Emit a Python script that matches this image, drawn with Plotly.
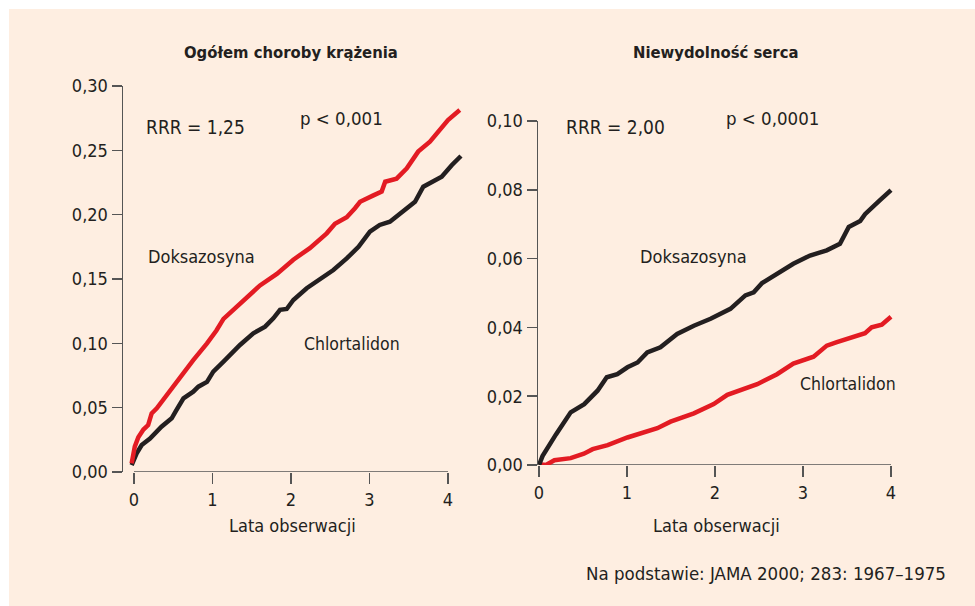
import plotly.graph_objects as go

# ---------------- data ----------------
# Left panel: Ogółem choroby krążenia
left_doks_t = [-0.03, 0.01, 0.055, 0.12, 0.18, 0.225, 0.29, 0.54, 0.61, 0.755, 0.93, 1.05, 1.14, 1.265,
               1.435, 1.605, 1.82, 2.03, 2.24, 2.455, 2.56, 2.71, 2.815, 2.88, 3.05, 3.155, 3.2, 3.345,
               3.475, 3.62, 3.77, 4.0, 4.15]
left_doks_v = [0.0067, 0.0197, 0.027, 0.033, 0.0365, 0.0456, 0.0495, 0.070, 0.0754, 0.087, 0.100, 0.110,
               0.119, 0.126, 0.135, 0.145, 0.154, 0.165, 0.174, 0.1855, 0.193, 0.198, 0.205, 0.210, 0.215,
               0.218, 0.2256, 0.228, 0.236, 0.249, 0.2567, 0.2736, 0.2813]
left_chlor_t = [-0.03, 0.034, 0.098, 0.204, 0.35, 0.48, 0.54, 0.63, 0.755, 0.82, 0.93, 1.01, 1.14, 1.35,
                1.52, 1.67, 1.775, 1.86, 1.945, 2.03, 2.2, 2.35, 2.54, 2.71, 2.86, 3.005, 3.13, 3.26,
                3.43, 3.58, 3.685, 3.77, 3.92, 4.05, 4.165]
left_chlor_v = [0.0054, 0.0145, 0.021, 0.026, 0.0352, 0.0417, 0.048, 0.0573, 0.0624, 0.0663, 0.070, 0.078,
                0.0857, 0.0987, 0.1078, 0.113, 0.1194, 0.126, 0.1267, 0.1337, 0.1428, 0.149, 0.157, 0.166,
                0.175, 0.1868, 0.192, 0.1945, 0.2023, 0.210, 0.2217, 0.2244, 0.2295, 0.2386, 0.2456]

# Right panel: Niewydolność serca
right_doks_t = [0.0, 0.04, 0.193, 0.325, 0.36, 0.514, 0.665, 0.77, 0.89, 1.005, 1.12, 1.23, 1.38, 1.57,
                1.76, 1.95, 2.175, 2.345, 2.44, 2.535, 2.74, 2.89, 3.08, 3.27, 3.42, 3.52, 3.65, 3.705,
                3.875, 4.0]
right_doks_v = [0.0, 0.0026, 0.0089, 0.0138, 0.0153, 0.0177, 0.0216, 0.0255, 0.0264, 0.0284, 0.0298,
                0.0327, 0.0342, 0.0381, 0.0405, 0.0425, 0.0454, 0.0493, 0.0502, 0.0529, 0.0561, 0.0585,
                0.0609, 0.0624, 0.0643, 0.0692, 0.0709, 0.0729, 0.077, 0.0799]
right_chlor_t = [0.0, 0.08, 0.175, 0.36, 0.51, 0.61, 0.78, 1.005, 1.345, 1.495, 1.76, 1.985, 2.14, 2.325,
                 2.48, 2.705, 2.89, 3.12, 3.27, 3.385, 3.575, 3.705, 3.78, 3.895, 4.0]
right_chlor_v = [0.0002, 0.0, 0.0014, 0.002, 0.0033, 0.0046, 0.0058, 0.008, 0.0107, 0.0126, 0.015,
                 0.0177, 0.0204, 0.022, 0.0235, 0.0264, 0.0295, 0.0315, 0.0347, 0.0357, 0.0371, 0.0383,
                 0.040, 0.0408, 0.0431]

x_ticks = [0, 1, 2, 3, 4]
left_y_ticks = [0.00, 0.05, 0.10, 0.15, 0.20, 0.25, 0.30]
right_y_ticks = [0.00, 0.02, 0.04, 0.06, 0.08, 0.10]

titles = ["Ogółem choroby krążenia", "Niewydolność serca"]
x_title = "Lata obserwacji"
source = "Na podstawie: JAMA 2000; 283: 1967–1975"

# ---------------- style ----------------
W, H = 975, 606
RED = "#E31B23"
BLACK = "#231F20"
AXIS = "#555555"
BG = "#FEEEE1"
FONT = "DejaVu Sans Condensed, Liberation Sans Narrow, Arial Narrow, sans-serif"
TXT = "#231F20"


def px(x):
    return x / W


def py(y):
    return 1 - y / H


fig = go.Figure()


def add_line(t, v, color, xa, ya):
    fig.add_trace(go.Scatter(x=t, y=v, xaxis=xa, yaxis=ya, mode="lines",
                             line=dict(width=4.5, color=color), hoverinfo="skip",
                             showlegend=False))


add_line(left_chlor_t, left_chlor_v, BLACK, "x", "y")
add_line(left_doks_t, left_doks_v, RED, "x", "y")
add_line(right_chlor_t, right_chlor_v, RED, "x2", "y2")
add_line(right_doks_t, right_doks_v, BLACK, "x2", "y2")

tickfont = dict(family=FONT, size=18, color=TXT)
common_x = dict(showgrid=False, zeroline=False, showline=False, ticks="outside", ticklen=11,
                tickwidth=1.5, tickcolor=AXIS, tickvals=x_ticks, tickfont=tickfont,
                fixedrange=True, automargin=False)
common_y = dict(showgrid=False, zeroline=False, showline=True, linecolor=AXIS, linewidth=1.5,
                ticks="outside", ticklen=10, tickwidth=1.5, tickcolor=AXIS, tickformat=".2f",
                tickfont=tickfont, fixedrange=True, automargin=False)

# left panel: x=0 at px 134, x=4 at px 448
lx0, lscale = 134, 78.5
l_dom = (123, 463)
fig.update_layout(
    xaxis=dict(**common_x, domain=[px(l_dom[0]), px(l_dom[1])], anchor="y",
               range=[(l_dom[0] - lx0) / lscale, (l_dom[1] - lx0) / lscale]),
    yaxis=dict(**common_y, domain=[py(472), py(86)], anchor="x", range=[0, 0.30],
               tickvals=left_y_ticks),
)
# right panel: x=0 at px 539, x=4 at px 891
rx0, rscale = 539, 88.0
r_dom = (538, 897)
fig.update_layout(
    xaxis2=dict(**common_x, domain=[px(r_dom[0]), px(r_dom[1])], anchor="y2",
                range=[(r_dom[0] - rx0) / rscale, (r_dom[1] - rx0) / rscale]),
    yaxis2=dict(**common_y, domain=[py(465), py(121)], anchor="x2", range=[0, 0.10],
                tickvals=right_y_ticks),
)

shapes = [
    # white strip along the top and left edge of the page, as in the reference
    dict(type="rect", xref="paper", yref="paper", x0=0, x1=px(9), y0=0, y1=1,
         fillcolor="white", line=dict(width=0), layer="below"),
    dict(type="rect", xref="paper", yref="paper", x0=0, x1=1, y0=py(9), y1=1,
         fillcolor="white", line=dict(width=0), layer="below"),
    dict(type="line", xref="x", yref="y", x0=x_ticks[0], x1=x_ticks[-1], y0=0, y1=0,
         line=dict(color=AXIS, width=1.5), layer="below"),
    dict(type="line", xref="x2", yref="y2", x0=x_ticks[0], x1=x_ticks[-1], y0=0, y1=0,
         line=dict(color=AXIS, width=1.5), layer="below"),
]

txt = dict(family=FONT, size=18, color=TXT)
bold = dict(family=FONT, size=16.5, color=TXT, weight="bold")
annotations = []


def ann(text, x, y, font, xanchor="center"):
    annotations.append(dict(text=text, x=px(x), y=py(y), xref="paper", yref="paper",
                            xanchor=xanchor, yanchor="middle", showarrow=False, font=font))


ann(titles[0], 291, 52, bold)
ann(titles[1], 716, 52, bold)
ann("RRR = 1,25", 195, 127, dict(txt, size=19))
ann("p < 0,001", 341, 118, dict(txt, size=18.5))
ann("Doksazosyna", 201, 256, txt)
ann("Chlortalidon", 352, 344, dict(txt, size=17.5))
ann("RRR = 2,00", 615, 127, dict(txt, size=19))
ann("p < 0,0001", 772, 118, dict(txt, size=18.5))
ann("Doksazosyna", 693, 256, txt)
ann("Chlortalidon", 848, 384, dict(txt, size=17.5))
ann(x_title, 292, 525, txt)
ann(x_title, 716, 525, txt)
ann(source, 948, 573, dict(family=FONT, size=18.5, color=TXT), xanchor="right")

fig.update_layout(
    width=W, height=H, margin=dict(l=0, r=0, t=0, b=0, pad=0, autoexpand=False),
    paper_bgcolor=BG, plot_bgcolor="rgba(0,0,0,0)",
    separators=",.", shapes=shapes, annotations=annotations, showlegend=False,
    font=dict(family=FONT, color=TXT),
)

# place the chart flush with the page corner (no default body margin)
fig.write_html("out.html", config={"displayModeBar": False, "staticPlot": True},
               post_script="document.body.style.margin='0';document.body.style.overflow='hidden';")
